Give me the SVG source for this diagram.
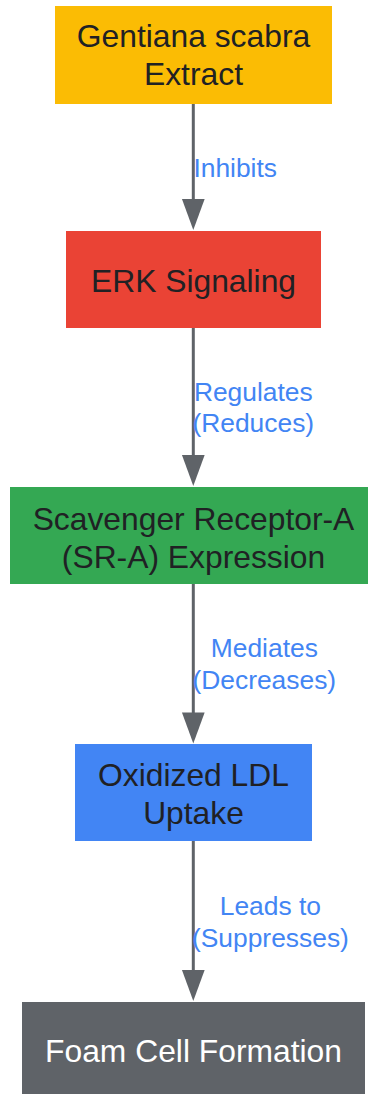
<svg xmlns="http://www.w3.org/2000/svg" xmlns:xlink="http://www.w3.org/1999/xlink" width="368" height="1094" viewBox="0 0 368 1094">
<style>
.nt{font-family:"Liberation Sans",Arial,sans-serif;font-size:31.8px;fill:#202124;text-anchor:middle}
.wt{fill:#ffffff}
.el{font-family:"Liberation Sans",Arial,sans-serif;font-size:26.4px;fill:#4285F4;text-anchor:middle}
.ln{stroke:#5F6368;stroke-width:3;fill:none}
.ah{fill:#5F6368}
</style>
<defs>
<path id="ah" class="ah" d="M-11.35,-31 L11.35,-31 L0,0 Z"/>
</defs>
<rect width="368" height="1094" fill="#ffffff"/>
<g id="connectors">
<g id="e1"><line class="ln" x1="193.3" y1="104" x2="193.3" y2="200"/><use xlink:href="#ah" href="#ah" x="193.3" y="230"/><text class="el" x="235.2" y="176.7">Inhibits</text></g>
<g id="e2"><line class="ln" x1="193.3" y1="328" x2="193.3" y2="456"/><use xlink:href="#ah" href="#ah" x="193.3" y="486"/><text class="el" x="253.3" y="401">Regulates</text><text class="el" x="253.3" y="432">(Reduces)</text></g>
<g id="e3"><line class="ln" x1="193.3" y1="584" x2="193.3" y2="714"/><use xlink:href="#ah" href="#ah" x="193.3" y="743.5"/><text class="el" x="264.3" y="657.3">Mediates</text><text class="el" x="264.3" y="688.5">(Decreases)</text></g>
<g id="e4"><line class="ln" x1="193.3" y1="841" x2="193.3" y2="971"/><use xlink:href="#ah" href="#ah" x="193.3" y="1001"/><text class="el" x="270.4" y="915">Leads to</text><text class="el" x="270.4" y="946.5">(Suppresses)</text></g>
</g>
<g id="n1"><rect x="55" y="6" width="277" height="98" fill="#FBBC04"/><text class="nt" x="193.5" y="47">Gentiana scabra</text><text class="nt" x="193.5" y="85">Extract</text></g>
<g id="n2"><rect x="66" y="231" width="255" height="97" fill="#EA4335"/><text class="nt" x="193.5" y="292">ERK Signaling</text></g>
<g id="n3"><rect x="10" y="487" width="367" height="97" fill="#34A853"/><text class="nt" x="193.5" y="529.5">Scavenger Receptor-A</text><text class="nt" x="193.5" y="568">(SR-A) Expression</text></g>
<g id="n4"><rect x="75" y="744" width="237" height="97" fill="#4285F4"/><text class="nt" x="193.5" y="785.5">Oxidized LDL</text><text class="nt" x="193.5" y="823.5">Uptake</text></g>
<g id="n5"><rect x="22" y="1002" width="343" height="97" fill="#5F6368"/><text class="nt wt" x="193.5" y="1061.7">Foam Cell Formation</text></g>
</svg>
